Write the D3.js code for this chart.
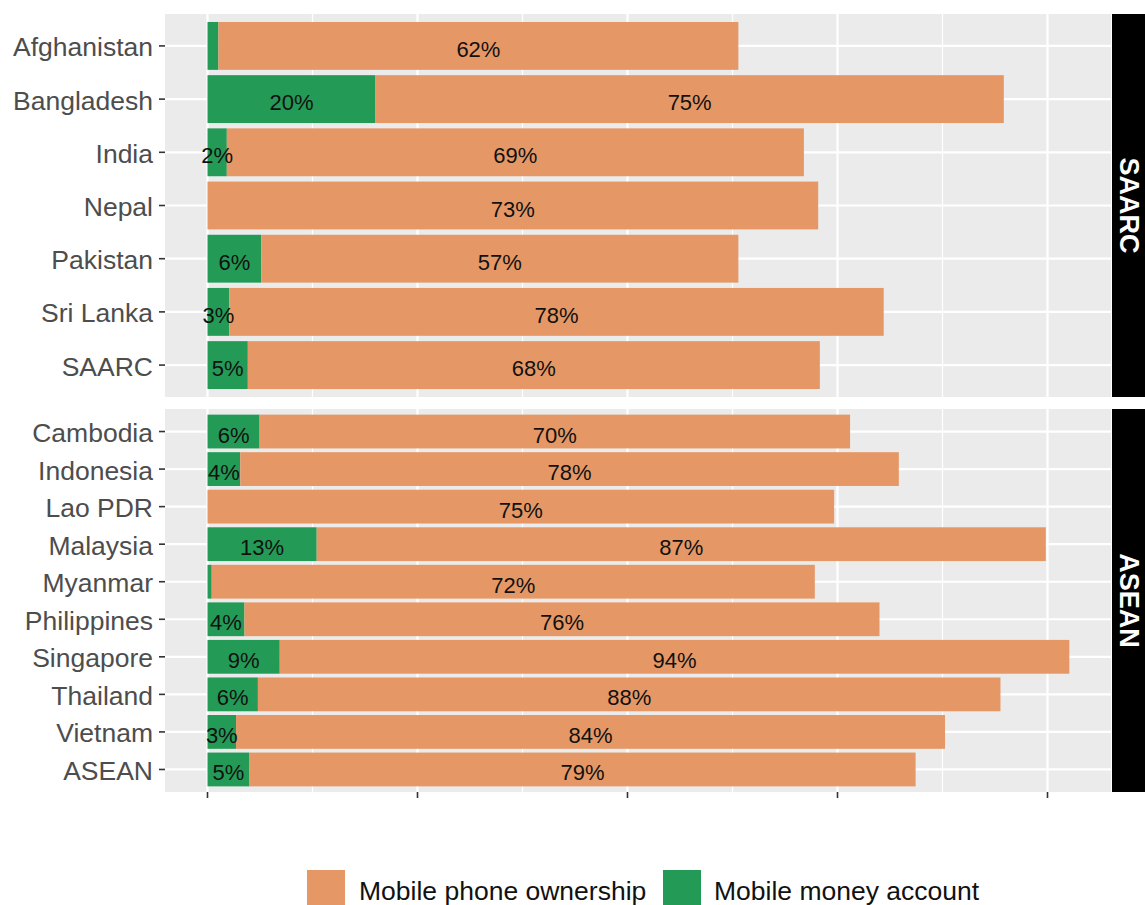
<!DOCTYPE html>
<html>
<head>
<meta charset="utf-8">
<script src="https://cdn.jsdelivr.net/npm/d3@7"></script>
<style>
  html, body { margin: 0; padding: 0; background: #fff; }
  svg { display: block; }
  text { font-family: "Liberation Sans", Arial, sans-serif; }
</style>
</head>
<body>
<div id="chart"></div>
<script>
// ---------------- DATA ----------------
const saarcCountries = ["Afghanistan", "Bangladesh", "India", "Nepal", "Pakistan", "Sri Lanka", "SAARC"];
const saarcMoney     = [1.3, 20.0, 2.3, 0, 6.4, 2.6, 4.8];
const saarcPhone     = [61.9, 74.8, 68.7, 72.7, 56.8, 77.9, 68.1];

const aseanCountries = ["Cambodia", "Indonesia", "Lao PDR", "Malaysia", "Myanmar", "Philippines", "Singapore", "Thailand", "Vietnam", "ASEAN"];
const aseanMoney     = [6.2, 3.9, 0, 13.0, 0.5, 4.4, 8.6, 6.0, 3.4, 5.0];
const aseanPhone     = [70.3, 78.4, 74.6, 86.8, 71.8, 75.6, 94.0, 88.4, 84.4, 79.3];

const groups = ["SAARC", "ASEAN"];
const seriesKeys = ["money", "phone"];
const seriesNames = ["Mobile phone ownership", "Mobile money account"]; // legend order
const xBreaks = [0, 25, 50, 75, 100];
const xMinorBreaks = [12.5, 37.5, 62.5, 87.5];
const labelMin = 1.5; // smaller segments carry no label

// ---------------- LAYOUT ----------------
const W = 1145, H = 905;
const panelLeft = 165, panelRight = 1111;
const panels = [
  { name: groups[0], top: 14, bottom: 397, countries: saarcCountries, money: saarcMoney, phone: saarcPhone },
  { name: groups[1], top: 409, bottom: 792, countries: aseanCountries, money: aseanMoney, phone: aseanPhone }
];
const colors = { phone: "#E59866", money: "#239B56" };

const svg = d3.select("#chart").append("svg")
  .attr("width", W).attr("height", H);

const x = d3.scaleLinear().domain([0, 100]).range([207.5, 1047.5]);

panels.forEach(p => {
  const data = p.countries.map((c, i) => ({ country: c, money: p.money[i], phone: p.phone[i] }));
  const y = d3.scalePoint().domain(p.countries).range([p.top, p.bottom]).padding(0.6);
  const bh = y.step() * 0.9;

  const g = svg.append("g");
  // panel background
  g.append("rect").attr("x", panelLeft).attr("y", p.top)
    .attr("width", panelRight - panelLeft).attr("height", p.bottom - p.top)
    .attr("fill", "#EBEBEB");

  // minor grid
  g.selectAll(".minor").data(xMinorBreaks).enter().append("line")
    .attr("x1", d => x(d)).attr("x2", d => x(d))
    .attr("y1", p.top).attr("y2", p.bottom)
    .attr("stroke", "#fff").attr("stroke-width", 1.2);
  // major grid
  g.selectAll(".majorx").data(xBreaks).enter().append("line")
    .attr("x1", d => x(d)).attr("x2", d => x(d))
    .attr("y1", p.top).attr("y2", p.bottom)
    .attr("stroke", "#fff").attr("stroke-width", 2.2);
  g.selectAll(".majory").data(p.countries).enter().append("line")
    .attr("x1", panelLeft).attr("x2", panelRight)
    .attr("y1", d => y(d)).attr("y2", d => y(d))
    .attr("stroke", "#fff").attr("stroke-width", 2.2);

  // stacked bars
  const stack = d3.stack().keys(seriesKeys)(data);
  stack.forEach(layer => {
    const key = layer.key;
    g.selectAll(".bar-" + key).data(layer).enter().append("rect")
      .attr("x", d => x(d[0]))
      .attr("width", d => Math.max(0, x(d[1]) - x(d[0])))
      .attr("y", d => y(d.data.country) - bh / 2)
      .attr("height", bh)
      .attr("fill", colors[key]);
  });
  // labels
  stack.forEach(layer => {
    const key = layer.key;
    g.selectAll(".lab-" + key).data(layer.filter(d => d[1] - d[0] >= labelMin)).enter().append("text")
      .attr("x", d => x((d[0] + d[1]) / 2))
      .attr("y", d => y(d.data.country) + 11)
      .attr("text-anchor", "middle")
      .attr("font-size", 22)
      .attr("fill", "#111")
      .text(d => Math.round(d[1] - d[0]) + "%");
  });

  // y axis ticks & labels
  g.selectAll(".ytick").data(p.countries).enter().append("line")
    .attr("x1", panelLeft - 6).attr("x2", panelLeft)
    .attr("y1", d => y(d)).attr("y2", d => y(d))
    .attr("stroke", "#333").attr("stroke-width", 1.6);
  g.selectAll(".ylab").data(p.countries).enter().append("text")
    .attr("x", panelLeft - 12)
    .attr("y", d => y(d) + 10.5)
    .attr("text-anchor", "end")
    .attr("font-size", 26.5)
    .attr("fill", "#4D4D4D")
    .text(d => d);

  // strip
  g.append("rect").attr("x", 1112).attr("y", p.top)
    .attr("width", 40).attr("height", p.bottom - p.top)
    .attr("fill", "#000");
  g.append("text")
    .attr("transform", `translate(1120,${(p.top + p.bottom) / 2}) rotate(90)`)
    .attr("text-anchor", "middle")
    .attr("font-size", 27)
    .attr("font-weight", "bold")
    .attr("fill", "#fff")
    .text(p.name);
});

// x axis ticks (bottom panel only)
svg.selectAll(".xtick").data(xBreaks).enter().append("line")
  .attr("x1", d => x(d)).attr("x2", d => x(d))
  .attr("y1", 792).attr("y2", 798)
  .attr("stroke", "#333").attr("stroke-width", 1.6);

// legend
const legendItems = [
  { name: seriesNames[0], color: colors.phone, kx: 307, tx: 359 },
  { name: seriesNames[1], color: colors.money, kx: 663, tx: 714 }
];
const lg = svg.append("g");
lg.selectAll("rect").data(legendItems).enter().append("rect")
  .attr("x", d => d.kx).attr("y", 870).attr("width", 38).attr("height", 38)
  .attr("fill", d => d.color);
lg.selectAll("text").data(legendItems).enter().append("text")
  .attr("x", d => d.tx).attr("y", 900)
  .attr("font-size", 26.5)
  .attr("fill", "#111")
  .text(d => d.name);
</script>
</body>
</html>
